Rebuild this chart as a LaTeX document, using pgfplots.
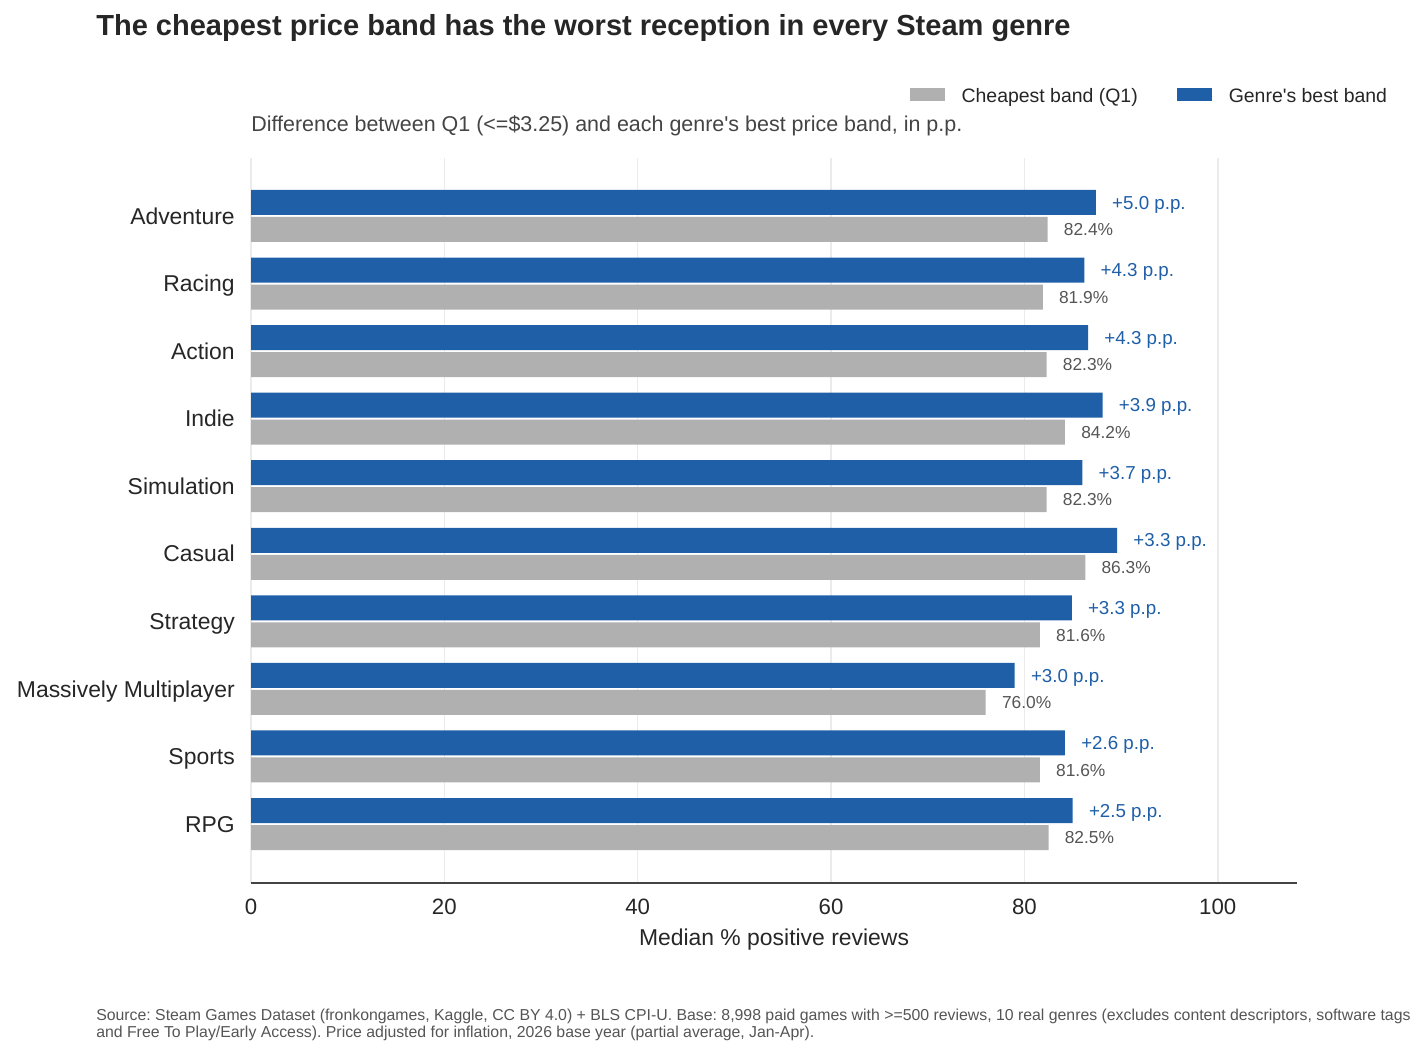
\documentclass[border=0pt]{standalone}
\usepackage{pgfplots}
\pgfplotsset{compat=1.18}
\usepackage{pgfplotstable}
\usepackage{fontspec}
\setmainfont{Liberation Sans}
\frenchspacing
\definecolor{bestblue}{HTML}{1F5FA8}
\definecolor{q1gray}{HTML}{B0B0B0}
\definecolor{txtdark}{HTML}{262626}
\definecolor{txtmid}{HTML}{444444}
\definecolor{lblgray}{HTML}{555555}
\definecolor{gridc}{HTML}{EBEBEB}
\definecolor{axisc}{HTML}{444444}

\pgfplotstableread{
idx q1 best diff
9 82.4 87.4 5.0
8 81.9 86.2 4.3
7 82.3 86.6 4.3
6 84.2 88.1 3.9
5 82.3 86.0 3.7
4 86.3 89.6 3.3
3 81.6 84.9 3.3
2 76.0 79.0 3.0
1 81.6 84.2 2.6
0 82.5 85.0 2.5
}\datatable

\begin{document}
\frenchspacing
\begin{tikzpicture}
\path[use as bounding box] (0,0) rectangle (1427*0.72pt,-1057*0.72pt);
\begin{axis}[
  at={(251*0.72pt,-883*0.72pt)}, anchor=south west,
  scale only axis, width=753.12pt, height=522pt,
  xmin=0, xmax=108.2, ymin=-0.873, ymax=9.858,
  axis x line*=bottom, axis y line*=left,
  x axis line style={-, draw=axisc, line width=1.4pt},
  y axis line style={draw=none},
  xtick={0,20,40,60,80,100}, ytick={0,1,2,3,4,5,6,7,8,9},
  yticklabels={RPG,Sports,Massively Multiplayer,Strategy,Casual,Simulation,Indie,Action,Racing,Adventure},
  major tick length=0pt, tick style={draw=none},
  xmajorgrids, ymajorgrids=false,
  major grid style={draw=gridc, line width=1.1pt},
  /pgf/number format/assume math mode=true,
  xticklabel style={font=\fontsize{16}{19}\selectfont, text=txtdark, anchor=base, inner sep=0pt, yshift=-23pt},
  yticklabel style={font=\fontsize{16.5}{20}\selectfont, text=txtdark, anchor=base east, inner sep=0pt, xshift=-11.52pt, yshift=-5.9pt},
  xbar, bar width=0.37,
  clip=false,
  legend columns=2,
  legend style={at={(1.0861,1.0855)}, anchor=east, draw=none, fill=none, inner sep=0pt, outer sep=0pt,
    font=\fontsize{14}{16.8}\selectfont, text=txtdark, column sep=0pt, nodes={inner sep=0pt}},
]
\addplot[fill=q1gray, draw=none, bar shift=-0.2, point meta=x,
  legend image code/.code={\fill[fill=q1gray] (1.4pt,-3.3pt) rectangle (26.6pt,6.1pt); \path (38.4pt,0pt);},
  nodes near coords={\pgfmathprintnumber[fixed,fixed zerofill,precision=1]{\pgfplotspointmeta}\%},
  every node near coord/.append style={font=\fontsize{12.5}{15}\selectfont, text=lblgray, anchor=base west, inner sep=0pt, xshift=11.52pt, yshift=-4.47pt}]
  table[x=q1,y=idx]{\datatable};
\addlegendentry{Cheapest band (Q1)\rule{28.1pt}{0pt}}
\addplot[fill=bestblue, draw=none, bar shift=0.2, point meta=explicit,
  legend image code/.code={\fill[fill=bestblue] (0pt,-3.3pt) rectangle (25.2pt,6.1pt); \path (37.4pt,0pt);},
  nodes near coords={+\pgfmathprintnumber[fixed,fixed zerofill,precision=1]{\pgfplotspointmeta} p.p.},
  every node near coord/.append style={font=\fontsize{13.5}{16}\selectfont, text=bestblue, anchor=base west, inner sep=0pt, xshift=11.52pt, yshift=-4.83pt}]
  table[x=best,y=idx,meta=diff]{\datatable};
\addlegendentry{Genre\textquotesingle s best band}
\end{axis}
\node[anchor=base west, inner sep=0pt, font=\fontsize{20.9}{25}\selectfont\bfseries, text=txtdark] at (96*0.72pt,-35*0.72pt) {The cheapest price band has the worst reception in every Steam genre};
\node[anchor=base west, inner sep=0pt, font=\fontsize{15.45}{18.5}\selectfont, text=txtmid] at (251*0.72pt,-131*0.72pt) {Difference between Q1 (<=\$3.25) and each genre\textquotesingle s best price band, in p.p.};
\node[anchor=base, inner sep=0pt, font=\fontsize{16.5}{20}\selectfont, text=txtdark] at (774*0.72pt,-945*0.72pt) {Median \% positive reviews};
\node[anchor=base west, inner sep=0pt, font=\fontsize{11.4}{13.7}\selectfont, text=lblgray] at (96*0.72pt,-1020*0.72pt) {Source: Steam Games Dataset (fronkongames, Kaggle, CC BY 4.0) + BLS CPI-U. Base: 8,998 paid games with >=500 reviews, 10 real genres (excludes content descriptors, software tags};
\node[anchor=base west, inner sep=0pt, font=\fontsize{11.4}{13.7}\selectfont, text=lblgray] at (96*0.72pt,-1037*0.72pt) {and Free To Play/Early Access). Price adjusted for inflation, 2026 base year (partial average, Jan-Apr).};
\end{tikzpicture}
\end{document}
